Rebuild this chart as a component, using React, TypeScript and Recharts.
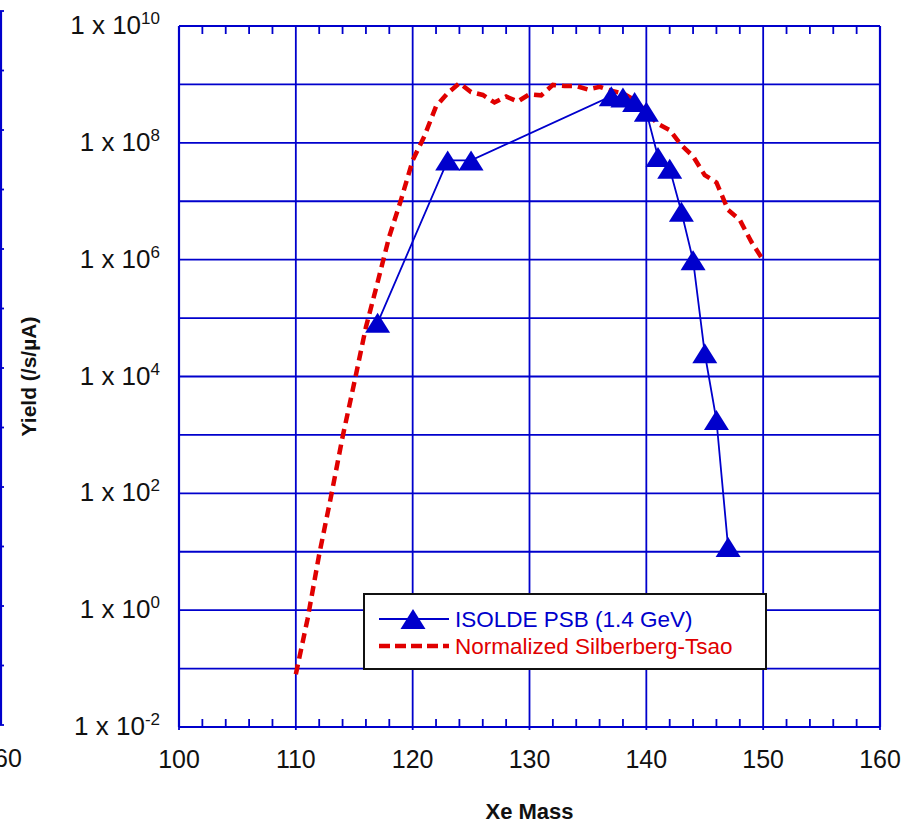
import React from 'react'
import { LineChart, Line, XAxis, YAxis, ReferenceLine, Legend } from 'recharts'

// ISOLDE PSB measured yields (1.4 GeV protons)
const psbMass = [117, 123, 125, 137, 138, 139, 140, 141, 142, 143, 144, 145, 146, 147]
const psbYield = [8.3e4, 5.0e7, 5.0e7, 6.3e8, 6.0e8, 5.0e8, 3.4e8, 5.7e7, 3.6e7, 6.6e6, 9.8e5, 2.5e4, 1.8e3, 12]

// Silberberg-Tsao cross sections, normalized
const stMass = [
  110, 111, 112, 113, 114, 115, 116, 117, 118, 119, 120, 121, 122, 123, 124, 125, 126, 127, 128, 129, 130,
  131, 132, 133, 134, 135, 136, 137, 138, 139, 140, 141, 142, 143, 144, 145, 146, 147, 148, 149, 150,
]
const stYield = [
  0.08, 0.7, 9, 86, 920, 7.8e3, 7.0e4, 4.1e5, 2.5e6, 1.05e7, 5.0e7, 1.3e8, 4.2e8, 7.1e8, 1.05e9, 7.4e8, 6.6e8,
  4.9e8, 6.2e8, 5.1e8, 6.8e8, 6.5e8, 9.8e8, 9.4e8, 9.4e8, 8.2e8, 9.1e8, 7.8e8, 7.0e8, 5.4e8, 3.4e8, 2.1e8,
  1.65e8, 9.1e7, 5.9e7, 2.8e7, 2.1e7, 7.1e6, 4.8e6, 2.0e6, 9.8e5,
]

const massTicks = [
  100, 102, 104, 106, 108, 110, 112, 114, 116, 118, 120, 122, 124, 126, 128, 130,
  132, 134, 136, 138, 140, 142, 144, 146, 148, 150, 152, 154, 156, 158, 160,
]
const massGrid = [110, 120, 130, 140, 150]
const decadeTicks = [1e-2, 1e-1, 1, 1e1, 1e2, 1e3, 1e4, 1e5, 1e6, 1e7, 1e8, 1e9, 1e10]
const decadeGrid = [1e-1, 1, 1e1, 1e2, 1e3, 1e4, 1e5, 1e6, 1e7, 1e8, 1e9]

const psbName = 'ISOLDE PSB (1.4 GeV)'
const stName = 'Normalized Silberberg-Tsao'

const BLUE = '#0000cc'
const RED = '#e00000'
const INK = '#111111'
const FONT = "'Liberation Sans', Arial, sans-serif"

const psbData = psbMass.map((m, i) => ({ mass: m, y: psbYield[i] }))
const stData = stMass.map((m, i) => ({ mass: m, y: stYield[i] }))

function BottomTick({ x, y, payload }: any) {
  const v = payload.value
  const major = v % 10 === 0
  return (
    <g>
      <line x1={x} x2={x} y1={y} y2={major ? y + 3 : y - 8} stroke={BLUE} strokeWidth={1.8} />
      {major && (
        <text x={x} y={y + 41} textAnchor="middle" fontSize={25} fontFamily={FONT} fill={INK}>
          {v}
        </text>
      )}
    </g>
  )
}

function TopTick({ x, y, payload }: any) {
  if (payload.value % 10 === 0) return <g />
  return <line x1={x} x2={x} y1={y} y2={y + 8} stroke={BLUE} strokeWidth={1.8} />
}

function DecadeTick({ x, y, payload }: any) {
  const e = Math.round(Math.log10(payload.value))
  if (e % 2 !== 0) return <g />
  return (
    <text x={x - 19} y={y + 8} textAnchor="end" fontSize={26} fontFamily={FONT} fill={INK}>
      1 x 10
      <tspan dy={-10} fontSize={17}>
        {e}
      </tspan>
    </text>
  )
}

function YTitle({ viewBox }: any) {
  const cx = viewBox.x + 36
  const cy = viewBox.y + viewBox.height / 2
  return (
    <text
      x={cx}
      y={cy}
      textAnchor="middle"
      transform={`rotate(-90 ${cx} ${cy})`}
      fontSize={21}
      fontWeight="bold"
      fontFamily={FONT}
      fill={INK}
    >
      Yield (/s/µA)
    </text>
  )
}

function XTitle({ viewBox }: any) {
  return (
    <text
      x={viewBox.x + viewBox.width / 2}
      y={viewBox.y + 92}
      textAnchor="middle"
      fontSize={22}
      fontWeight="bold"
      fontFamily={FONT}
      fill={INK}
    >
      Xe Mass
    </text>
  )
}

function Triangle(props: any) {
  const { cx, cy, index } = props
  if (cx == null || cy == null) return <g key={`t-${index}`} />
  return (
    <polygon
      key={`t-${index}`}
      points={`${cx},${cy - 10} ${cx - 12.5},${cy + 10} ${cx + 12.5},${cy + 10}`}
      fill={BLUE}
    />
  )
}

function LegendBox({ payload }: any) {
  const items = [...(payload || [])].sort((a: any, b: any) =>
    a.payload?.strokeDasharray ? 1 : b.payload?.strokeDasharray ? -1 : 0
  )
  return (
    <div
      style={{
        width: 404,
        height: 77,
        border: `2px solid ${INK}`,
        background: '#fff',
        boxSizing: 'border-box',
      }}
    >
      <svg width={400} height={73} style={{ display: 'block' }}>
        {items.map((entry: any, i: number) => {
          const dashed = !!entry.payload?.strokeDasharray
          const cy = i === 0 ? 24 : 51
          return (
            <g key={entry.value}>
              {dashed ? (
                <line x1={14} x2={84} y1={cy} y2={cy} stroke={entry.color} strokeWidth={4.5} strokeDasharray="11 5" />
              ) : (
                <g>
                  <line x1={14} x2={84} y1={cy} y2={cy} stroke={entry.color} strokeWidth={1.8} />
                  <polygon points={`48,${cy - 10} 35.5,${cy + 10} 60.5,${cy + 10}`} fill={entry.color} />
                </g>
              )}
              <text x={90} y={cy + 8} fontSize={22.5} fontFamily={FONT} fill={entry.color}>
                {entry.value}
              </text>
            </g>
          )
        })}
      </svg>
    </div>
  )
}

function GhostLabel({ x, y, payload }: any) {
  return (
    <text x={x} y={y + 42} textAnchor="middle" fontSize={25} fontFamily={FONT} fill={INK}>
      {payload.value}
    </text>
  )
}

function GhostTick({ x, y }: any) {
  return <line x1={x - 3} x2={x + 3} y1={y} y2={y} stroke={BLUE} strokeWidth={1.8} />
}

export default function App() {
  return (
    <div
      style={{
        position: 'fixed',
        left: 0,
        top: 0,
        width: 920,
        height: 828,
        overflow: 'hidden',
        background: '#fff',
      }}
    >
      {/* edge of the neighbouring chart, cut off at the left */}
      <div style={{ position: 'absolute', left: -98, top: 0 }}>
        <LineChart width={140} height={828} margin={{ top: 11, right: 40, bottom: 0, left: 0 }}>
          <XAxis
            type="number"
            dataKey="mass"
            domain={[150, 160]}
            allowDataOverflow
            ticks={[160]}
            height={103}
            axisLine={false}
            tickLine={false}
            tickSize={0}
            tickMargin={0}
            tick={<GhostLabel />}
          />
          <YAxis
            orientation="right"
            width={1}
            scale="log"
            domain={[0.01, 1e10]}
            allowDataOverflow
            ticks={decadeTicks}
            interval={0}
            axisLine={{ stroke: BLUE, strokeWidth: 2.2 }}
            tickLine={false}
            tickSize={0}
            tickMargin={0}
            tick={<GhostTick />}
          />
          <Line
            data={stData}
            dataKey="y"
            stroke="none"
            dot={false}
            activeDot={false}
            legendType="none"
            isAnimationActive={false}
          />
        </LineChart>
      </div>

      <div style={{ position: 'absolute', left: 0, top: 0 }}>
        <LineChart width={920} height={828} margin={{ top: 25, right: 40, bottom: 0, left: 0 }}>
          <XAxis
            type="number"
            dataKey="mass"
            domain={[100, 160]}
            ticks={massTicks}
            interval={0}
            height={101}
            axisLine={{ stroke: BLUE, strokeWidth: 2.2 }}
            tickLine={false}
            tickSize={0}
            tickMargin={0}
            tick={<BottomTick />}
            label={<XTitle />}
          />
          <XAxis
            xAxisId="top"
            orientation="top"
            type="number"
            dataKey="mass"
            domain={[100, 160]}
            allowDataOverflow
            ticks={massTicks}
            interval={0}
            height={1}
            axisLine={{ stroke: BLUE, strokeWidth: 2.2 }}
            tickLine={false}
            tickSize={0}
            tickMargin={0}
            tick={<TopTick />}
          />
          <YAxis
            width={179}
            scale="log"
            domain={[0.01, 1e10]}
            ticks={decadeTicks}
            interval={0}
            allowDataOverflow
            axisLine={{ stroke: BLUE, strokeWidth: 2.2 }}
            tickLine={false}
            tickSize={0}
            tickMargin={0}
            tick={<DecadeTick />}
            label={<YTitle />}
          />

          {massGrid.map(m => (
            <ReferenceLine key={`gx${m}`} x={m} stroke={BLUE} strokeWidth={1.8} />
          ))}
          {decadeGrid.map(d => (
            <ReferenceLine key={`gy${d}`} y={d} stroke={BLUE} strokeWidth={1.8} />
          ))}
          <ReferenceLine x={160} stroke={BLUE} strokeWidth={2.2} />
          <ReferenceLine y={1e10} stroke={BLUE} strokeWidth={2.2} />

          {/* invisible series so the top axis gets built */}
          <Line
            xAxisId="top"
            data={psbData}
            dataKey="y"
            stroke="none"
            dot={false}
            activeDot={false}
            legendType="none"
            isAnimationActive={false}
          />
          <Line
            data={stData}
            dataKey="y"
            name={stName}
            type="linear"
            stroke={RED}
            strokeWidth={4.5}
            strokeDasharray="10 6"
            dot={false}
            activeDot={false}
            isAnimationActive={false}
          />
          <Line
            data={psbData}
            dataKey="y"
            name={psbName}
            type="linear"
            stroke={BLUE}
            strokeWidth={1.8}
            dot={Triangle}
            activeDot={false}
            isAnimationActive={false}
          />

          <Legend
            layout="vertical"
            align="center"
            verticalAlign="middle"
            content={<LegendBox />}
            wrapperStyle={{ left: 363, top: 593, width: 404, height: 77 }}
          />
        </LineChart>
      </div>
    </div>
  )
}
